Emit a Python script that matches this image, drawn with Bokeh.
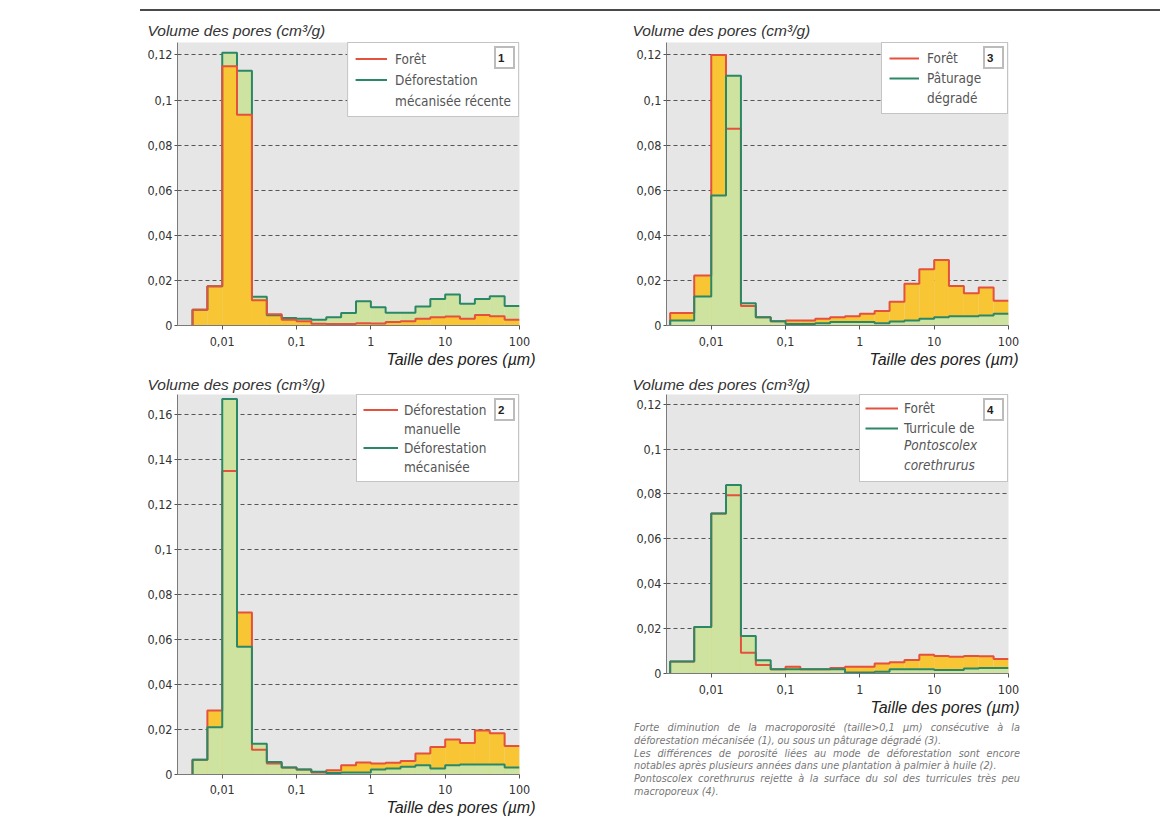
from bokeh.plotting import figure
from bokeh.models import (Range1d, FixedTicker, Legend, LegendItem, Div,
                          ColumnDataSource, Title)
from bokeh.layouts import row, column
from bokeh.embed import file_html
from bokeh.resources import INLINE

# ---------------- data ----------------
# pore-size bin edges (µm), 5 bins per decade
EDGES_A = [0.00398, 0.00631, 0.01, 0.0158, 0.0251, 0.0398, 0.0631, 0.1, 0.158, 0.251,
           0.398, 0.631, 1.0, 1.58, 2.51, 3.98, 6.31, 10.0, 15.8, 25.1, 39.8, 63.1, 100.0]
EDGES_B = [0.0028, 0.0059, 0.01, 0.0158, 0.0251, 0.0398, 0.0631, 0.1, 0.158, 0.251,
           0.398, 0.631, 1.0, 1.58, 2.51, 3.98, 6.31, 10.0, 15.8, 25.1, 39.8, 63.1, 100.0]

# panel 1
foret_1 = [0.007, 0.0174, 0.115, 0.0935, 0.0112, 0.005, 0.0025, 0.0019, 0.0008, 0.0007, 0.0007,
           0.001, 0.0009, 0.0015, 0.0019, 0.003, 0.0037, 0.004, 0.003, 0.0047, 0.0041, 0.0025]
meca_recente_1 = [0.007, 0.0174, 0.121, 0.113, 0.0128, 0.0045, 0.0033, 0.003, 0.0025, 0.0037, 0.0055,
                  0.0108, 0.0081, 0.0056, 0.0056, 0.0084, 0.0118, 0.0137, 0.0096, 0.0118, 0.013, 0.0086]
# panel 2
manuelle_2 = [0.0066, 0.0285, 0.135, 0.072, 0.011, 0.0049, 0.0031, 0.0022, 0.0009, 0.0019, 0.0041,
              0.0053, 0.0049, 0.0052, 0.006, 0.0093, 0.0122, 0.0156, 0.014, 0.0196, 0.0184, 0.0127]
mecanisee_2 = [0.0066, 0.021, 0.167, 0.0568, 0.0137, 0.0056, 0.0031, 0.0022, 0.0012, 0.0007, 0.0009,
               0.0009, 0.0022, 0.0027, 0.0034, 0.0041, 0.0027, 0.0041, 0.0044, 0.0044, 0.0044, 0.0031]
# panel 3
foret_3 = [0.0055, 0.0222, 0.120, 0.0872, 0.0087, 0.0037, 0.0019, 0.0022, 0.0022, 0.003, 0.0037,
           0.0041, 0.0052, 0.0064, 0.0105, 0.0185, 0.025, 0.029, 0.0175, 0.0143, 0.0168, 0.011]
paturage_3 = [0.0022, 0.0129, 0.0576, 0.1108, 0.0099, 0.0037, 0.0019, 0.0007, 0.0007, 0.001, 0.0015,
              0.0015, 0.0015, 0.001, 0.0018, 0.0022, 0.003, 0.0037, 0.0041, 0.0041, 0.0044, 0.0052]
# panel 4
foret_4 = [0.0053, 0.0207, 0.0713, 0.0794, 0.0093, 0.0038, 0.0019, 0.003, 0.0019, 0.0019, 0.0025,
           0.003, 0.003, 0.0045, 0.005, 0.006, 0.0083, 0.0078, 0.0075, 0.0078, 0.0077, 0.0065]
turricule_4 = [0.0053, 0.0207, 0.0713, 0.084, 0.0167, 0.0059, 0.0019, 0.0019, 0.0019, 0.0019, 0.0019,
               0.0005, 0.0005, 0.0008, 0.0019, 0.0019, 0.0019, 0.0016, 0.0016, 0.0022, 0.0024, 0.0024]

X_TICKS = [0.01, 0.1, 1, 10, 100]
X_TICK_LABELS = ["0,01", "0,1", "1", "10", "100"]
Y_TICKS_12 = [0, 0.02, 0.04, 0.06, 0.08, 0.1, 0.12]
Y_TICK_LABELS_12 = ["0", "0,02", "0,04", "0,06", "0,08", "0,1", "0,12"]
Y_TICKS_16 = [0, 0.02, 0.04, 0.06, 0.08, 0.1, 0.12, 0.14, 0.16]
Y_TICK_LABELS_16 = ["0", "0,02", "0,04", "0,06", "0,08", "0,1", "0,12", "0,14", "0,16"]

Y_TITLE = "Volume des pores (cm³/g)"
X_TITLE = "Taille des pores (µm)"

CAPTION = [
    "Forte diminution de la macroporosité (taille>0,1 µm) consécutive à la",
    "déforestation mécanisée (1), ou sous un pâturage dégradé (3).",
    "Les différences de porosité liées au mode de déforestation sont encore",
    "notables après plusieurs années dans une plantation à palmier à huile (2).",
    "Pontoscolex corethrurus rejette à la surface du sol des turricules très peu",
    "macroporeux (4).",
]

# ---------------- style ----------------
RED = "#e4513c"
GREEN = "#2b8866"
YELLOW = "#f8c534"
LGREEN = "#cfe3a0"
BG = "#e6e6e6"
NARROW = "'Liberation Sans Narrow', 'DejaVu Sans Condensed', sans-serif"
ITAL = "'Liberation Sans', sans-serif"
X0, X1 = 0.0025, 100


def step_xy(edges, vals):
    xs, ys = [edges[0]], [0]
    for i, v in enumerate(vals):
        xs += [edges[i], edges[i + 1]]
        ys += [v, v]
    return xs, ys


def panel(width, height, bl, br, bt, bb, ytop, yticks, ylabels, edges,
          red_vals, green_vals, red_on_top, legend_spec, number,
          title_dx, title_standoff, xt_dx, xstand):
    p = figure(width=width, height=height, x_axis_type="log",
               x_range=Range1d(X0, X1), y_range=Range1d(0, ytop),
               output_backend="svg", toolbar_location=None, title=None,
               min_border_left=bl, min_border_right=br,
               min_border_top=bt, min_border_bottom=bb)
    p.background_fill_color = BG
    p.border_fill_color = "white"
    p.outline_line_color = None

    src_r = ColumnDataSource(dict(l=edges[:-1], r=edges[1:], t=red_vals))
    src_g = ColumnDataSource(dict(l=edges[:-1], r=edges[1:], t=green_vals))
    fills = [(src_g, LGREEN), (src_r, YELLOW)] if red_on_top else [(src_r, YELLOW), (src_g, LGREEN)]
    for s, c in fills:
        p.quad(left="l", right="r", bottom=0, top="t", source=s,
               fill_color=c, line_color=None)
    rx, ry = step_xy(edges, red_vals)
    gx, gy = step_xy(edges, green_vals)
    red_line = dict(x=rx, y=ry, c=RED)
    green_line = dict(x=gx, y=gy, c=GREEN)
    order = [green_line, red_line] if red_on_top else [red_line, green_line]
    rends = {}
    for d in order:
        rends[d["c"]] = p.line(d["x"], d["y"], line_color=d["c"], line_width=2)
    blank = p.line(rx, ry, line_color=RED, line_alpha=0, line_width=2)

    # axes
    p.xaxis.ticker = FixedTicker(ticks=X_TICKS)
    p.xaxis.major_label_overrides = dict(zip(X_TICKS, X_TICK_LABELS))
    p.yaxis.ticker = FixedTicker(ticks=yticks)
    p.yaxis.major_label_overrides = dict(zip(yticks, ylabels))
    for ax in (p.xaxis, p.yaxis):
        ax.minor_tick_line_color = None
        ax.axis_line_color = "#7a7a7a"
        ax.axis_line_width = 1
        ax.major_tick_line_color = "#555555"
        ax.major_tick_in = 0
        ax.major_label_text_font = NARROW
        ax.major_label_text_font_size = "12.5px"
        ax.major_label_text_color = "#333333"
    p.xaxis.major_tick_out = 4
    p.xaxis.major_label_standoff = xstand
    p.yaxis.major_tick_out = 3
    p.yaxis.major_label_standoff = 2
    p.xgrid.grid_line_color = None
    p.ygrid.grid_line_color = "#555555"
    p.ygrid.grid_line_dash = "4 3"
    p.ygrid.grid_line_width = 1

    # legend
    items = []
    for lab, col in legend_spec["items"]:
        r = rends[col] if col else blank
        items.append(LegendItem(label=lab, renderers=[r]))
    leg = Legend(items=items, location="top_right", margin=0,
                 padding=legend_spec["padding"], spacing=legend_spec["spacing"],
                 label_height=legend_spec["label_height"],
                 glyph_height=legend_spec["label_height"],
                 glyph_width=legend_spec["glyph_width"],
                 label_width=legend_spec["label_width"],
                 label_standoff=legend_spec["standoff"],
                 label_text_font=NARROW, label_text_font_size="13.5px",
                 label_text_color="#555555",
                 border_line_color="#8a8a8a", border_line_width=1,
                 background_fill_color="white", background_fill_alpha=1)
    p.add_layout(leg)

    if "italic" in legend_spec:
        labs, loc = legend_spec["italic"]
        ital = Legend(items=[LegendItem(label=t, renderers=[blank]) for t in labs],
                      location=loc, margin=0, padding=0,
                      spacing=legend_spec["spacing"],
                      label_height=legend_spec["label_height"],
                      glyph_height=legend_spec["label_height"],
                      glyph_width=0, label_standoff=0,
                      label_text_font=NARROW, label_text_font_size="13.5px",
                      label_text_font_style="italic", label_text_color="#555555",
                      border_line_color=None, background_fill_alpha=0)
        p.add_layout(ital)

    # panel number box (second legend drawn on top of the first)
    num = Legend(items=[LegendItem(label=number, renderers=[blank])],
                 location="top_right", margin=4, padding=2,
                 glyph_width=0, glyph_height=15, label_height=15, label_standoff=0,
                 label_width=13,
                 label_text_font=ITAL, label_text_font_size="11.5px",
                 label_text_font_style="bold", label_text_color="#222222",
                 border_line_color="#7a7a7a", border_line_width=2,
                 background_fill_color="white", background_fill_alpha=1)
    p.add_layout(num)

    # titles (outside the frame)
    p.add_layout(Title(text=Y_TITLE, align="left", offset=title_dx, standoff=title_standoff,
                       text_font=ITAL, text_font_size="15.5px", text_font_style="italic",
                       text_color="#333333"), "above")
    p.add_layout(Title(text=X_TITLE, align="right", offset=xt_dx, standoff=0,
                       text_font=ITAL, text_font_size="16px", text_font_style="italic",
                       text_color="#222222"), "below")
    return p


leg1 = dict(items=[("Forêt", RED), ("Déforestation", GREEN), ("mécanisée récente", None)],
            padding=7, spacing=4, label_height=17, glyph_width=32, label_width=109, standoff=8)
leg3 = dict(items=[("Forêt", RED), ("Pâturage", GREEN), ("dégradé", None)],
            padding=7, spacing=4, label_height=16, glyph_width=30, label_width=73, standoff=8)
leg2 = dict(items=[("Déforestation", RED), ("manuelle", None),
                   ("Déforestation", GREEN), ("mécanisée", None)],
            padding=6, spacing=2, label_height=17, glyph_width=35, label_width=108, standoff=6)
leg4 = dict(items=[("Forêt", RED), ("Turricule de", GREEN), (" ", None), (" ", None)],
            padding=5, spacing=4, label_height=16, glyph_width=33, label_width=98, standoff=6,
            italic=(["Pontoscolex", "corethrurus"], (238, 200)))

TOP_RULE_H = 11
p1 = panel(600, 371 - TOP_RULE_H, 177, 81, 42 - TOP_RULE_H, 46, 0.1255, Y_TICKS_12, Y_TICK_LABELS_12,
           EDGES_A, foret_1, meca_recente_1, True, leg1, "1", -30, 8, -16, 7)
p3 = panel(520, 371 - TOP_RULE_H, 66, 112, 42 - TOP_RULE_H, 46, 0.1255, Y_TICKS_12, Y_TICK_LABELS_12,
           EDGES_B, foret_3, paturage_3, False, leg3, "3", -34, 8, -10, 7)
p2 = panel(600, 447, 177, 81, 21, 44, 0.169, Y_TICKS_16, Y_TICK_LABELS_16, EDGES_A,
           manuelle_2, mecanisee_2, False, leg2, "2", -30, 4, -16, 6)
p4 = panel(520, 349, 66, 112, 21, 47, 0.1243, Y_TICKS_12, Y_TICK_LABELS_12, EDGES_B,
           foret_4, turricule_4, False, leg4, "4", -34, 4, -11, 7)

top_rule = Div(text="", width=1020, height=TOP_RULE_H - 2, margin=(0, 0, 0, 140),
               styles={"border-bottom": "2px solid #4a4a4a", "box-sizing": "content-box"})

lines_html = []
for i, t in enumerate(CAPTION):
    just = "text-align:justify;text-align-last:justify;" if i in (0, 2, 4) else "text-align:left;"
    lines_html.append('<div style="%swhite-space:nowrap">%s</div>' % (just, t))
caption = Div(text='<div style="font-family:%s;font-style:italic;font-size:10.8px;'
                   'line-height:12.8px;color:#777777;width:386px">%s</div>'
                   % (NARROW.replace("'", "&#39;"), "".join(lines_html)),
              width=390, margin=(2, 0, 0, 34))

layout = column(top_rule, row(p1, p3), row(p2, column(p4, caption)))

with open("out.html", "w") as f:
    f.write(file_html(layout, INLINE))
